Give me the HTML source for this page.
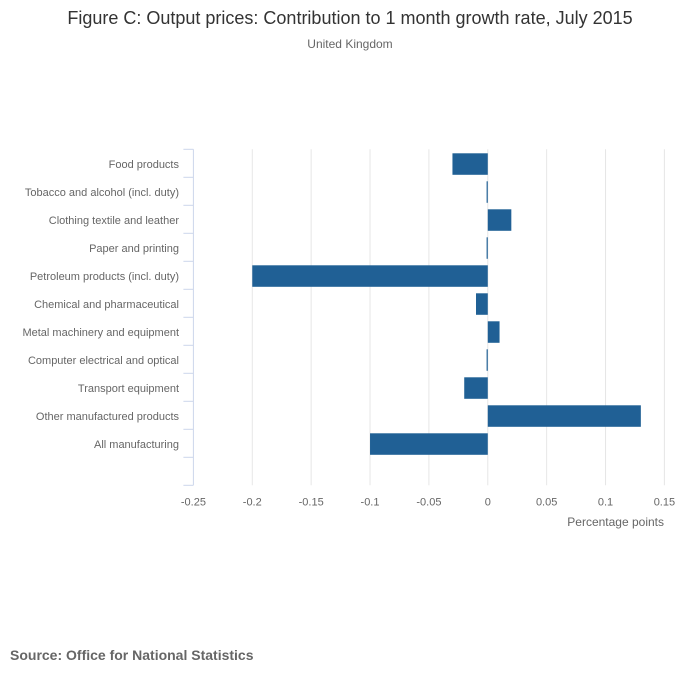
<!DOCTYPE html>
<html><head><meta charset="utf-8"><style>
body{margin:0;background:#fff;font-family:"Liberation Sans",sans-serif;}
svg text{font-family:"Liberation Sans",sans-serif;}
</style></head><body>
<svg id="chart" width="700" height="682">
<text x="350" y="24" text-anchor="middle" font-size="18" fill="#333">Figure C: Output prices: Contribution to 1 month growth rate, July 2015</text>
<text x="350" y="48" text-anchor="middle" font-size="12" fill="#666">United Kingdom</text>
<text x="10" y="660" font-size="14" font-weight="bold" fill="#666">Source: Office for National Statistics</text>
<text x="664" y="526" text-anchor="end" font-size="12" fill="#666">Percentage points</text>
<g id="grid"></g><g id="bars"></g><g id="axes"></g>
</svg>
<script>
const categories=["Food products","Tobacco and alcohol (incl. duty)","Clothing textile and leather","Paper and printing","Petroleum products (incl. duty)","Chemical and pharmaceutical","Metal machinery and equipment","Computer electrical and optical","Transport equipment","Other manufactured products","All manufacturing"];
const values=[-0.03,-0.001,0.02,-0.001,-0.2,-0.01,0.01,-0.001,-0.02,0.13,-0.1];
const xTicks=[-0.25,-0.2,-0.15,-0.1,-0.05,0,0.05,0.1,0.15];
const xTickLabels=["-0.25","-0.2","-0.15","-0.1","-0.05","0","0.05","0.1","0.15"];
const NS="http://www.w3.org/2000/svg";
const x0=193.4,x1=664.4,dmin=-0.25,dmax=0.15,plotTop=149.3,slot=28,nslots=12;
const xs=v=>x0+(v-dmin)/(dmax-dmin)*(x1-x0);
function mk(t,a,p){const e=document.createElementNS(NS,t);for(const k in a)e.setAttribute(k,a[k]);p.appendChild(e);return e;}
const grid=document.getElementById('grid'),bars=document.getElementById('bars'),axes=document.getElementById('axes');
const plotBottom=plotTop+slot*nslots;
xTicks.forEach((v,i)=>{
 if(i>0){const l=mk('line',{x1:xs(v),x2:xs(v),y1:plotTop,y2:plotBottom,stroke:'#e6e6e6','stroke-width':1},grid);
 
 }
 const t=mk('text',{x:xs(v),y:plotBottom+20,'text-anchor':'middle','font-size':11,fill:'#666'},axes);
 t.textContent=xTickLabels[i];
 
 
});
const ax=mk('line',{x1:x0,x2:x0,y1:plotTop,y2:plotBottom,stroke:'#ccd6eb','stroke-width':1},axes);


for(let i=0;i<=nslots;i++){const tk=mk('line',{x1:x0-10,x2:x0,y1:plotTop+i*slot,y2:plotTop+i*slot,stroke:'#ccd6eb','stroke-width':1},axes);
 
 }
categories.forEach((c,i)=>{
 const y=plotTop+i*slot;
 const v=values[i];
 const a=xs(Math.min(0,v)),b=xs(Math.max(0,v));
 const r=mk('rect',{x:a,y:y+4,width:Math.max(1,b-a),height:21.5,fill:'#206095'},bars);
 
 
 const t=mk('text',{x:179,y:y+18.5,'text-anchor':'end','font-size':11,fill:'#666'},axes);
 t.textContent=c;
 
 
});
</script>
</body></html>
